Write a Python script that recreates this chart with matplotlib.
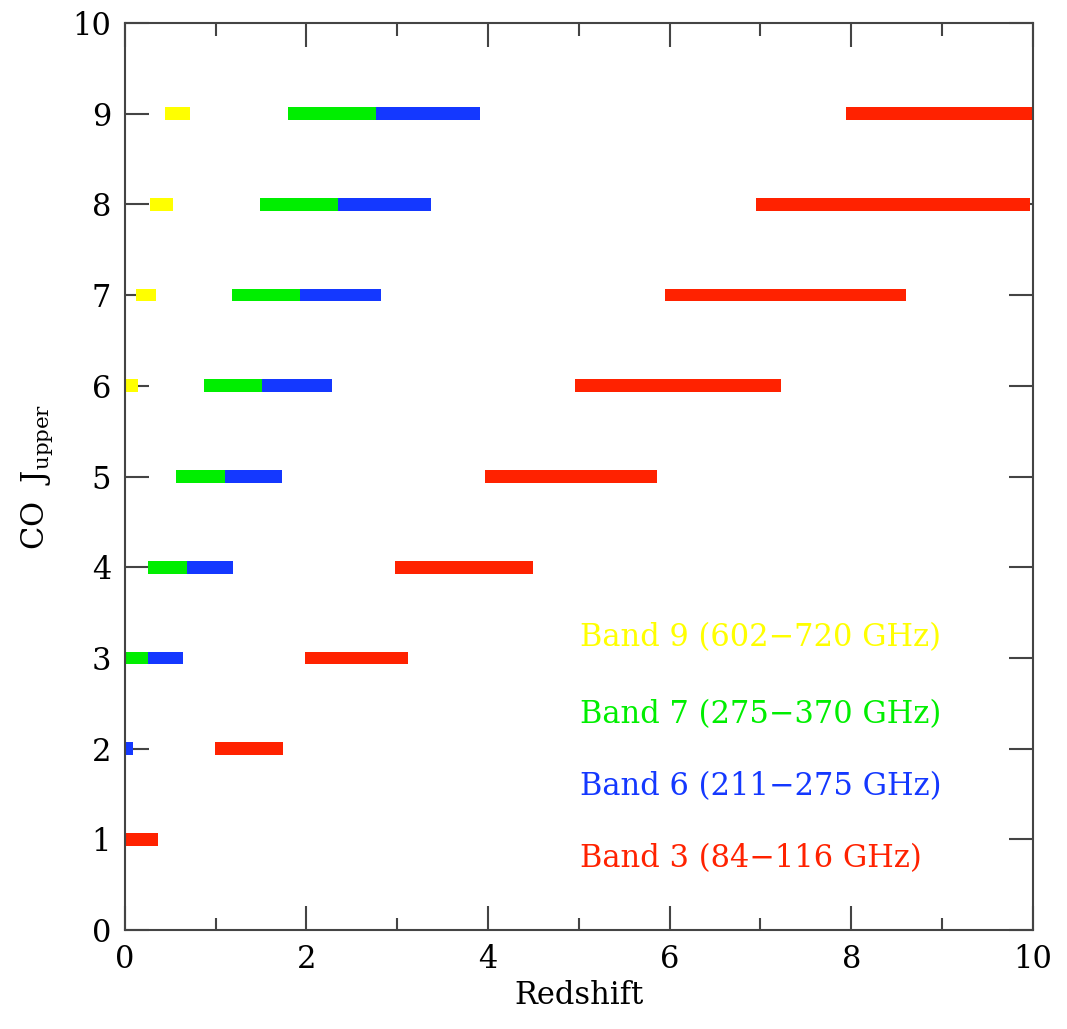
import numpy as np
import matplotlib
matplotlib.use('Agg')
import matplotlib.pyplot as plt
from matplotlib.ticker import MultipleLocator

plt.rcParams['font.family'] = 'DejaVu Serif'
plt.rcParams['mathtext.fontset'] = 'dejavuserif'

# Redshift ranges covered by each ALMA band for CO J_upper
band9_j = [6, 7, 8, 9]
band9_lo = [0.0, 0.12, 0.28, 0.44]
band9_hi = [0.15, 0.34, 0.53, 0.72]

band7_j = [3, 4, 5, 6, 7, 8, 9]
band7_lo = [0.0, 0.25, 0.56, 0.87, 1.18, 1.49, 1.80]
band7_hi = [0.26, 0.68, 1.10, 1.51, 1.93, 2.35, 2.77]

band6_j = [2, 3, 4, 5, 6, 7, 8, 9]
band6_lo = [0.0, 0.26, 0.68, 1.10, 1.51, 1.93, 2.35, 2.77]
band6_hi = [0.09, 0.64, 1.19, 1.73, 2.28, 2.82, 3.37, 3.91]

band3_j = [1, 2, 3, 4, 5, 6, 7, 8, 9]
band3_lo = [0.0, 0.99, 1.98, 2.97, 3.97, 4.96, 5.95, 6.95, 7.94]
band3_hi = [0.37, 1.74, 3.12, 4.49, 5.86, 7.23, 8.60, 9.97, 11.35]

band_labels = ['Band 9 (602\u2212720 GHz)', 'Band 7 (275\u2212370 GHz)',
               'Band 6 (211\u2212275 GHz)', 'Band 3 (84\u2212116 GHz)']
band_colors = ['#ffff00', '#00ee00', '#1438ff', '#ff2200']
label_y = [3.22, 2.38, 1.58, 0.79]

fig = plt.figure(figsize=(10.67, 10.29), dpi=100)
ax = fig.add_axes([0.117, 0.0962, 0.851, 0.8814])

bands = [(band9_j, band9_lo, band9_hi), (band7_j, band7_lo, band7_hi),
         (band6_j, band6_lo, band6_hi), (band3_j, band3_lo, band3_hi)]
for (j, lo, hi), col in zip(bands, band_colors):
    lo = np.array(lo)
    hi = np.array(hi)
    # bars sit above the tick marks, like the original
    ax.barh(j, hi - lo, left=lo, height=0.14, color=col, edgecolor='none', zorder=3)

for lab, col, yy in zip(band_labels, band_colors, label_y):
    ax.text(5.01, yy, lab, color=col, fontsize=22, va='center', ha='left')

ax.set_xlim(0, 10)
ax.set_ylim(0, 10)
ax.xaxis.set_major_locator(MultipleLocator(2))
ax.xaxis.set_minor_locator(MultipleLocator(1))
ax.yaxis.set_major_locator(MultipleLocator(1))
ax.tick_params(which='both', direction='in', top=True, right=True,
               color='#444444', width=1.5, labelsize=22)
ax.tick_params(which='major', length=17, pad=10)
ax.tick_params(which='minor', length=9)
for s in ax.spines.values():
    s.set_color('#444444')
    s.set_linewidth(1.5)
    s.set_zorder(4)

ax.set_xlabel('Redshift', fontsize=22, labelpad=4)
ax.set_ylabel(r'CO  J$_{\mathrm{upper}}$', fontsize=22, labelpad=12)

plt.savefig('out.png', dpi=100)
